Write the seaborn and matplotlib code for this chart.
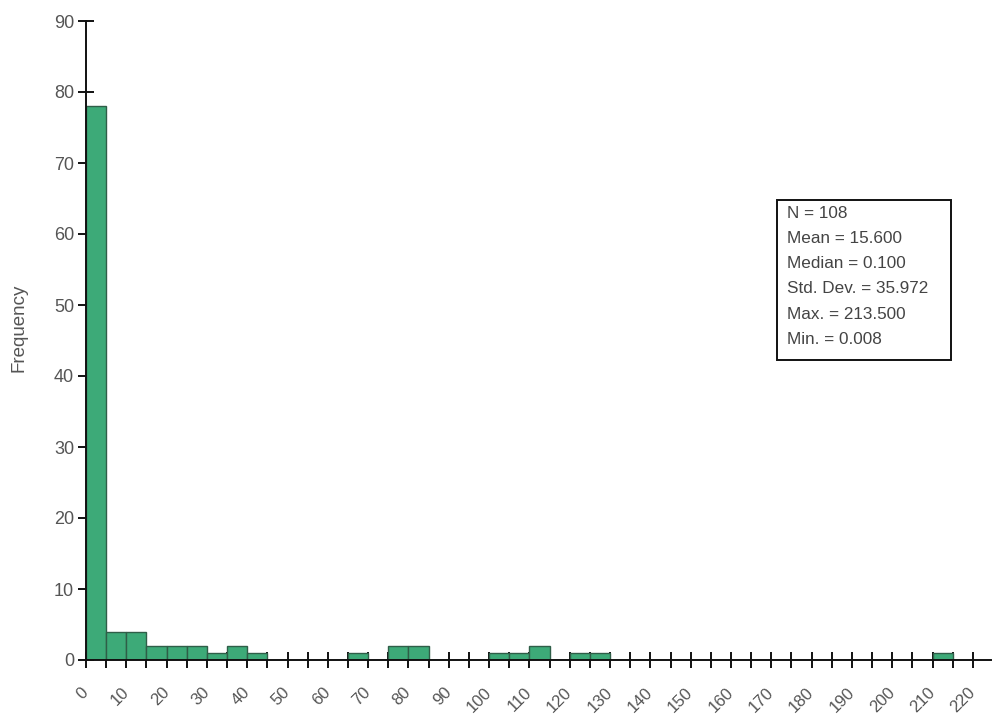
import numpy as np
import pandas as pd
import matplotlib
matplotlib.use("Agg")
import matplotlib.pyplot as plt
from matplotlib.patches import Rectangle
import seaborn as sns

# Histogram bins (width 5) and their counts
bin_width = 5
bin_lefts = list(range(0, 215, 5))
counts = [78, 4, 4, 2, 2, 2, 1, 2, 1, 0, 0, 0, 0, 1, 0, 2, 2, 0, 0, 0,
          1, 1, 2, 0, 1, 1, 0, 0, 0, 0, 0, 0, 0, 0, 0, 0, 0, 0, 0, 0,
          0, 0, 1]
tick_values = list(range(0, 225, 10))
y_ticks = list(range(0, 100, 10))
stats_lines = ["N = 108", "Mean = 15.600", "Median = 0.100",
               "Std. Dev. = 35.972", "Max. = 213.500", "Min. = 0.008"]

# place each bin's weight at its centre so it falls in the right bin
df = pd.DataFrame({"value": [b + bin_width / 2 for b in bin_lefts],
                   "count": counts})

sns.set_style("white")
plt.rcParams["font.family"] = ["Liberation Sans", "DejaVu Sans"]

W, H = 993, 719
fig = plt.figure(figsize=(W / 100, H / 100), dpi=100)
ax = fig.add_axes([86 / W, (H - 660) / H, (991 - 86) / W, (660 - 21) / H])

sns.histplot(data=df, x="value", weights="count", binwidth=bin_width,
             binrange=(0, 215), ax=ax,
             color="#3daa78", alpha=1.0, edgecolor="#2f5e48", linewidth=1.0)

ax.set_xlim(0, 224.5)
ax.set_ylim(0, 90)

for side in ("top", "right"):
    ax.spines[side].set_visible(False)
for side in ("left", "bottom"):
    ax.spines[side].set_color("#111111")
    ax.spines[side].set_linewidth(1.4)

ax.set_xticks(np.arange(0, 225, 5))
ax.set_xticklabels([str(v) if v in tick_values else "" for v in range(0, 225, 5)],
                   rotation=45, ha="right", va="center", rotation_mode="anchor")
ax.set_yticks(y_ticks)
ax.tick_params(axis="both", bottom=True, left=True, direction="inout",
               length=11, width=1.4, color="#111111",
               labelcolor="#555555", labelsize=13)
ax.tick_params(axis="x", pad=16, labelsize=12)
ax.tick_params(axis="y", pad=3)

ax.set_xlabel("")
ax.set_ylabel("Frequency", color="#555555", fontsize=13.5)
ax.yaxis.set_label_coords(-0.065, 0.52)

# Summary statistics box
x0, y0, x1, y1 = 777, 200, 951, 360
fig.patches.append(Rectangle((x0 / W, 1 - y1 / H), (x1 - x0) / W, (y1 - y0) / H,
                             transform=fig.transFigure, facecolor="white",
                             edgecolor="#111111", linewidth=1.4))
for i, line in enumerate(stats_lines):
    fig.text(787 / W, 1 - (213 + 25.3 * i) / H, line, fontsize=12.3,
             color="#444444", va="center", ha="left")

fig.savefig("out.png", dpi=100)
